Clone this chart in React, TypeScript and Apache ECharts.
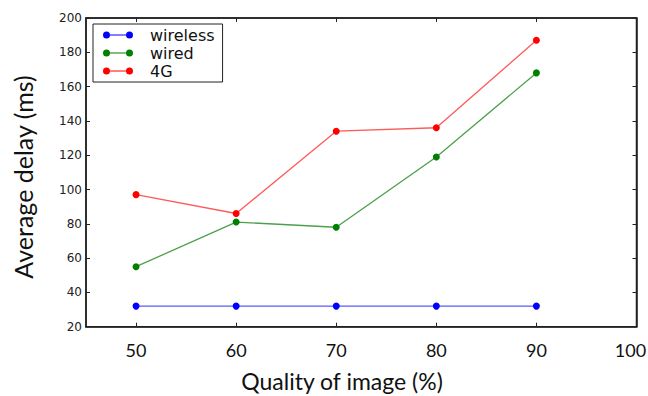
import React, { useEffect, useRef } from "react";
import * as echarts from "echarts";

const quality = [50, 60, 70, 80, 90];
const wireless = [32, 32, 32, 32, 32];
const wired = [55, 81, 78, 119, 168];
const g4 = [97, 86, 134, 136, 187];
const xTicks = [50, 60, 70, 80, 90, 100];
const seriesNames = ["wireless", "wired", "4G"];

const ICON =
  "path://M0,3.5A3.5,3.5 0 1,1 7,3.5A3.5,3.5 0 1,1 0,3.5Z M23,3.5A3.5,3.5 0 1,1 30,3.5A3.5,3.5 0 1,1 23,3.5Z M3.5,3L26.5,3L26.5,4L3.5,4Z";

export default function App() {
  const ref = useRef<HTMLDivElement>(null);
  useEffect(() => {
    if (!ref.current) return;
    const chart = echarts.init(ref.current, null, { renderer: "svg" });
    const mk = (name: string, vals: number[], color: string, lineColor: string) => ({
      name,
      type: "line",
      data: quality.map((q, i) => [q, vals[i]]),
      symbol: "circle",
      symbolSize: 7,
      itemStyle: { color },
      lineStyle: { color: lineColor, width: 1.3 },
      z: 3,
    });
    const frame = "#222";
    const lastTick = xTicks[xTicks.length - 1];
    chart.setOption({
      animation: false,
      backgroundColor: "#fff",
      grid: {
        left: 86,
        top: 18,
        right: 11.5,
        bottom: 69.3,
        show: true,
        borderColor: frame,
        borderWidth: 1.5,
        containLabel: false,
        outerBoundsMode: "none",
      },
      legend: {
        left: 93,
        top: 24,
        orient: "vertical",
        data: seriesNames.map((n) => ({ name: n, icon: ICON })),
        itemWidth: 30,
        itemHeight: 7,
        itemGap: 0,
        padding: [2, 8, 2, 10],
        borderColor: "#222",
        borderWidth: 1,
        backgroundColor: "#fff",
        formatter: (n: string) => "{a|" + n + "}",
        textStyle: {
          fontFamily: "DejaVu Sans",
          fontSize: 16,
          color: "#111",
          lineHeight: 18,
          rich: { a: { fontFamily: "DejaVu Sans", fontSize: 16, color: "#111", lineHeight: 18, padding: [0, 0, 0, 12] } },
        },
      },
      xAxis: [
        {
          type: "value",
          min: 45,
          max: 100,
          position: "bottom",
          axisLine: { show: true, lineStyle: { color: frame, width: 1.5 } },
          splitLine: { show: false },
          axisTick: { show: true, inside: true, length: 4, customValues: xTicks, lineStyle: { color: frame } },
          axisLabel: {
            customValues: xTicks,
            margin: 14,
            fontFamily: "Lato",
            fontSize: 18,
            color: "#111",
            formatter: (v: number) => (v === lastTick ? "{r|" + v + "}" : String(v)),
            rich: { r: { fontFamily: "Lato", fontSize: 18, color: "#111", padding: [0, 12, 0, 0] } },
          },
        },
        {
          type: "value",
          min: 45,
          max: 100,
          position: "top",
          axisLine: { show: true, lineStyle: { color: frame, width: 1.5 } },
          splitLine: { show: false },
          axisTick: { show: true, inside: true, length: 4, customValues: xTicks, lineStyle: { color: frame } },
          axisLabel: { show: false },
        },
      ],
      yAxis: [
        {
          type: "value",
          min: 20,
          max: 200,
          interval: 20,
          position: "left",
          axisLine: { show: true, lineStyle: { color: frame, width: 1.5 } },
          splitLine: { show: false },
          axisTick: { show: true, inside: true, length: 4, lineStyle: { color: frame } },
          axisLabel: { margin: 4, fontFamily: "DejaVu Sans", fontSize: 12, color: "#222" },
        },
        {
          type: "value",
          min: 20,
          max: 200,
          interval: 20,
          position: "right",
          axisLine: { show: true, lineStyle: { color: frame, width: 1.5 } },
          splitLine: { show: false },
          axisTick: { show: true, inside: true, length: 4, lineStyle: { color: frame } },
          axisLabel: { show: false },
        },
      ],
      graphic: [
        {
          type: "text",
          x: 23,
          y: 177,
          rotation: Math.PI / 2,
          style: {
            text: "Average delay (ms)",
            fontFamily: "Lato",
            fontSize: 25,
            fill: "#111",
            align: "center",
            verticalAlign: "middle",
          },
        },
        {
          type: "text",
          x: 342,
          y: 381,
          style: {
            text: "Quality of image (%)",
            fontFamily: "Lato",
            fontSize: 23,
            fill: "#111",
            align: "center",
            verticalAlign: "middle",
          },
        },
      ],
      series: [
        mk("wireless", wireless, "#0000ff", "#5a5aff"),
        mk("wired", wired, "#008000", "#4c9f4c"),
        mk("4G", g4, "#ff0000", "#ff5a5a"),
      ],
    });
    return () => chart.dispose();
  }, []);
  return <div ref={ref} style={{ width: 648, height: 396, position: "fixed", left: 0, top: 0 }} />;
}
